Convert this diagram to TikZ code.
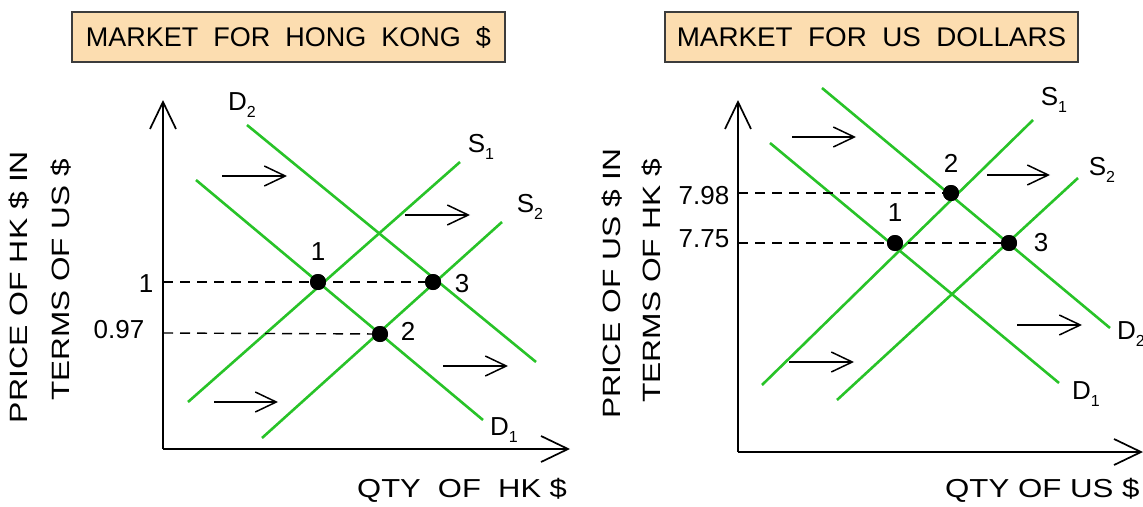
\documentclass[tikz,border=0pt]{standalone}
\usepackage{fontspec}
\setmainfont{Liberation Sans}
\usetikzlibrary{arrows.meta}
\definecolor{curve}{RGB}{40,195,40}
\definecolor{titlefill}{RGB}{252,221,176}
\definecolor{titledraw}{RGB}{60,60,60}
\newcommand\sbs[1]{\raisebox{-0.5ex}{\fontsize{16}{16}\selectfont #1}}
\newcommand\wide[2]{\scalebox{#1}[1]{#2}}
\tikzset{
  curveline/.style={draw=curve, line width=2.6pt},
  axisline/.style={draw=black, line width=1.8pt, -{Straight Barb[length=27pt,width=26pt,line width=1.7pt]}},
  shiftarrow/.style={draw=black, line width=1.5pt, -{Straight Barb[length=21pt,width=20pt,line width=1.5pt]}},
  guide/.style={draw=black, line width=1.4pt, dash pattern=on 10pt off 7pt},
  eqdot/.style={circle, fill=black, inner sep=0pt, minimum size=16pt},
  titlebox/.style={draw=titledraw, fill=titlefill, line width=1.5pt, minimum width=433pt, minimum height=50pt, font=\fontsize{27}{27}\selectfont},
  lbl/.style={font=\fontsize{26}{26}\selectfont, inner sep=0pt},
  axlbl/.style={font=\fontsize{25}{25}\selectfont, inner sep=0pt, rotate=90},
}
\begin{document}
\begin{tikzpicture}[x=1pt,y=-1pt]
\useasboundingbox (0,0) rectangle (1143,506);

% ---------- LEFT CHART ----------
\node[titlebox] (t1) at (288.5,37) {MARKET\ \ FOR\ \ HONG\ \ KONG\ \ \$};

\coordinate (o1) at (163,449);
\coordinate (ytop1) at (163,100);
\coordinate (xend1) at (570,449);
\draw[axisline] (o1) -- (ytop1);
\draw[axisline] (o1) -- (xend1);

\node[axlbl] (py1) at (19,287) {\wide{1.28}{PRICE OF HK \$ IN}};
\node[axlbl] (ty1) at (61,280) {\wide{1.26}{TERMS OF US \$}};
\node[lbl, anchor=west] (qx1) at (357,490) {\wide{1.19}{QTY\ \ OF\ \ HK \$}};

\coordinate (s1a) at (188,402); \coordinate (s1b) at (460,162);
\coordinate (s2a) at (262,438); \coordinate (s2b) at (502,222);
\coordinate (d1a) at (196,180); \coordinate (d1b) at (483,420);
\coordinate (d2a) at (247,125); \coordinate (d2b) at (536,362);
\draw[curveline] (s1a) -- (s1b);
\draw[curveline] (s2a) -- (s2b);
\draw[curveline] (d1a) -- (d1b);
\draw[curveline] (d2a) -- (d2b);

\node[lbl] (ls1) at (481,147) {S\sbs{1}};
\node[lbl] (ls2) at (530,207) {S\sbs{2}};
\node[lbl] (ld1) at (504,430) {D\sbs{1}};
\node[lbl] (ld2) at (242,105) {D\sbs{2}};

\node[lbl] (v1) at (146,284) {1};
\node[lbl] (v097) at (119,330) {0.97};
\coordinate (y1a) at (163,282);
\coordinate (y2a) at (163,333);
\node[eqdot] (e1) at (318,282) {};
\node[eqdot] (e3) at (433,282) {};
\node[eqdot] (e2) at (380,334) {};
\draw[guide] (y1a) -- (e3);
\draw[guide] (y2a) -- (e2);
\node[eqdot] at (318,282) {};
\node[eqdot] at (433,282) {};
\node[eqdot] at (380,334) {};
\node[lbl] (n1) at (318,252) {1};
\node[lbl] (n3) at (462,284) {3};
\node[lbl] (n2) at (408,331) {2};

\coordinate (a1s) at (222,176); \coordinate (a1e) at (287,176);
\coordinate (a2s) at (405,215); \coordinate (a2e) at (470,215);
\coordinate (a3s) at (443,366); \coordinate (a3e) at (508,366);
\coordinate (a4s) at (214,402); \coordinate (a4e) at (278,402);
\draw[shiftarrow] (a1s) -- (a1e);
\draw[shiftarrow] (a2s) -- (a2e);
\draw[shiftarrow] (a3s) -- (a3e);
\draw[shiftarrow] (a4s) -- (a4e);

% ---------- RIGHT CHART ----------
\node[titlebox, minimum width=413pt] (t2) at (871.5,37) {\wide{1.03}{MARKET\ \ FOR\ \ US\ \ DOLLARS}};

\coordinate (o2) at (738,452);
\coordinate (ytop2) at (738,100);
\coordinate (xend2) at (1143,452);
\draw[axisline] (o2) -- (ytop2);
\draw[axisline] (o2) -- (xend2);

\node[axlbl] (py2) at (612,284) {\wide{1.27}{PRICE OF US \$ IN}};
\node[axlbl] (ty2) at (652,281) {\wide{1.27}{TERMS OF HK \$}};
\node[lbl, anchor=west] (qx2) at (945,490) {\wide{1.2}{QTY OF US \$}};

\coordinate (rs1a) at (762,385); \coordinate (rs1b) at (1033,120);
\coordinate (rs2a) at (837,400); \coordinate (rs2b) at (1078,178);
\coordinate (rd1a) at (770,143); \coordinate (rd1b) at (1059,383);
\coordinate (rd2a) at (822,88);  \coordinate (rd2b) at (1110,328);
\draw[curveline] (rs1a) -- (rs1b);
\draw[curveline] (rs2a) -- (rs2b);
\draw[curveline] (rd1a) -- (rd1b);
\draw[curveline] (rd2a) -- (rd2b);

\node[lbl] (rls1) at (1054,100) {S\sbs{1}};
\node[lbl] (rls2) at (1102,170) {S\sbs{2}};
\node[lbl] (rld1) at (1086,394) {D\sbs{1}};
\node[lbl, anchor=west] (rld2) at (1117,334) {D\sbs{2}};

\node[lbl] (v798) at (704,196) {7.98};
\node[lbl] (v775) at (704,239) {7.75};
\coordinate (ry1) at (738,193);
\coordinate (ry2) at (738,243);
\node[eqdot] (f2) at (951,193) {};
\node[eqdot] (f1) at (895,243) {};
\node[eqdot] (f3) at (1009,243) {};
\draw[guide] (ry1) -- (f2);
\draw[guide] (ry2) -- (f3);
\node[eqdot] at (951,193) {};
\node[eqdot] at (895,243) {};
\node[eqdot] at (1009,243) {};
\node[lbl] (m2) at (951,163) {2};
\node[lbl] (m1) at (895,213) {1};
\node[lbl] (m3) at (1041,243) {3};

\coordinate (b1s) at (792,137); \coordinate (b1e) at (856,137);
\coordinate (b2s) at (987,175); \coordinate (b2e) at (1050,175);
\coordinate (b3s) at (1017,325); \coordinate (b3e) at (1082,325);
\coordinate (b4s) at (789,362); \coordinate (b4e) at (854,362);
\draw[shiftarrow] (b1s) -- (b1e);
\draw[shiftarrow] (b2s) -- (b2e);
\draw[shiftarrow] (b3s) -- (b3e);
\draw[shiftarrow] (b4s) -- (b4e);
\end{tikzpicture}
\end{document}
